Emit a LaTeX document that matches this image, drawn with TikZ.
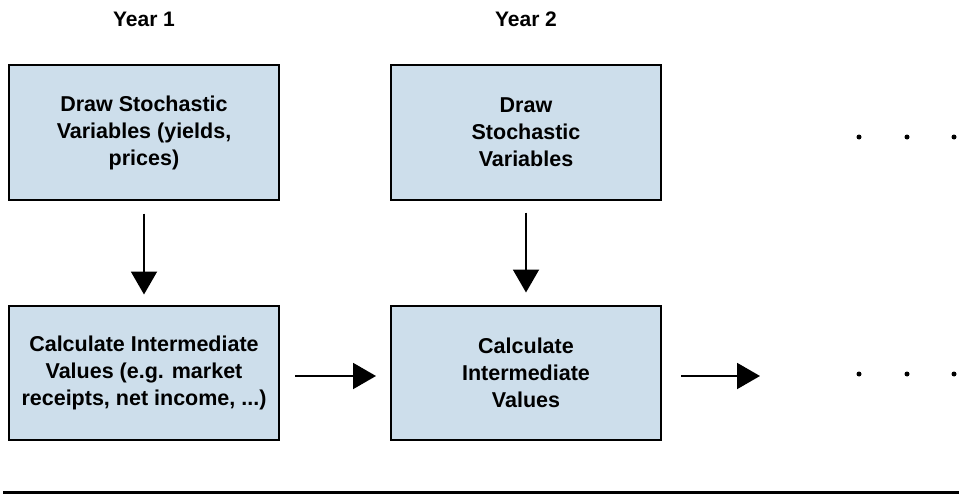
\documentclass[tikz,border=0pt]{standalone}
\usepackage{fontspec}
\setmainfont{Liberation Sans}
\usetikzlibrary{arrows.meta,positioning}
\definecolor{boxblue}{RGB}{205,222,235}

\begin{document}
\begin{tikzpicture}[
  x=1pt, y=-1pt,
  node distance=104pt and 110pt,
  stepbox/.style={rectangle, draw=black, line width=2pt, fill=boxblue, minimum width=270pt, minimum height=134pt, align=center, font=\fontsize{21.5}{27}\selectfont\bfseries},
  yearlabel/.style={font=\fontsize{21}{25}\selectfont\bfseries, anchor=base},
  arrow/.style={-{Triangle[length=23pt, width=26pt]}, line width=2pt},
  ellipsisdot/.style={circle, fill=black, inner sep=0pt, minimum size=5pt},
]
\useasboundingbox (0,0) rectangle (959,495);

% Year 1
\node[stepbox] (draw1) at (144,132.5) {Draw Stochastic\\Variables (yields,\\prices)};
\node[stepbox, below=of draw1] (calc1) {Calculate Intermediate\\Values (e.g. market\\receipts, net income, ...)};

% Year 2
\node[stepbox, right=of draw1] (draw2) {Draw\\Stochastic\\Variables};
\node[stepbox, right=of calc1] (calc2) {Calculate\\Intermediate\\Values};

% Headings
\node[yearlabel] (year1) at (144,27) {Year 1};
\node[yearlabel] (year2) at (526,27) {Year 2};

% Further years
\foreach \px [count=\i] in {859,907,954} {
  \node[ellipsisdot] (topdot\i) at (\px,137) {};
  \node[ellipsisdot] (botdot\i) at (\px,374) {};
}
\coordinate (next) at ([xshift=98pt, yshift=-3.5pt]calc2.east);

% Arrows
\draw[arrow, shorten <=13pt, shorten >=10pt] (draw1) -- (calc1);
\draw[arrow, shorten <=12pt, shorten >=12pt] (draw2) -- (calc2);
\draw[arrow, shorten <=15pt, shorten >=14pt] ([yshift=-3.5pt]calc1.east) -- ([yshift=-3.5pt]calc2.west);
\draw[arrow, shorten <=19pt] ([yshift=-3.5pt]calc2.east) -- (next);

% Rule
\draw[line width=3pt] (3,492) -- (959,492);

\end{tikzpicture}
\end{document}
